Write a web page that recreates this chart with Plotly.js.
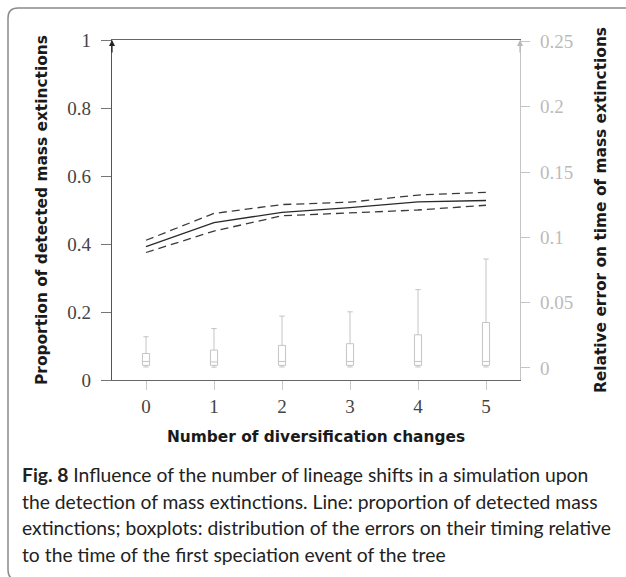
<!DOCTYPE html>
<html>
<head>
<meta charset="utf-8">
<script src="https://cdn.plot.ly/plotly-3.0.1.min.js"></script>
<style>html,body{margin:0;padding:0;background:#fff;}#chart{width:626px;height:577px;}</style>
</head>
<body>
<div id="chart"></div>
<script>
// Number of diversification changes
const changes = [0, 1, 2, 3, 4, 5];
// Proportion of detected mass extinctions (solid line) and its bounds (dashed)
const proportion = [0.392, 0.463, 0.493, 0.507, 0.524, 0.528];
const proportionUpper = [0.411, 0.490, 0.516, 0.523, 0.544, 0.552];
const proportionLower = [0.375, 0.438, 0.483, 0.492, 0.500, 0.514];
// Relative error on time of mass extinctions (boxplots)
const errLowerFence = [0.0008, 0.0006, 0.0008, 0.0008, 0.0008, 0.0008];
const errQ1 = [0.0020, 0.0020, 0.0020, 0.0020, 0.0020, 0.0020];
const errMedian = [0.0050, 0.0046, 0.0050, 0.0050, 0.0050, 0.0050];
const errQ3 = [0.0111, 0.0137, 0.0173, 0.0186, 0.0254, 0.0348];
const errUpperFence = [0.0239, 0.0302, 0.0397, 0.0430, 0.0600, 0.0834];
// Tick labels
const leftTicks = [0, 0.2, 0.4, 0.6, 0.8, 1];
const leftTickText = ['0', '0.2', '0.4', '0.6', '0.8', '1'];
const rightTicks = [0, 0.05, 0.1, 0.15, 0.2, 0.25];
const rightTickText = ['0', '0.05', '0.1', '0.15', '0.2', '0.25'];
const captionLines = [
  '<b>Fig. 8</b> Influence of the number of lineage shifts in a simulation upon',
  'the detection of mass extinctions. Line: proportion of detected mass',
  'extinctions; boxplots: distribution of the errors on their timing relative',
  'to the time of the first speciation event of the tree'
];

const W = 626, H = 577;
const M = {l: 112, r: 106, t: 40, b: 197};
const pw = W - M.l - M.r, ph = H - M.t - M.b;
const px = x => (x - M.l) / pw;
const py = y => (H - M.b - y) / ph;

const serif = 'Liberation Serif, DejaVu Serif, serif';
const sansTitle = 'DejaVu Sans, sans-serif';
const sansCap = 'Lato, Open Sans, sans-serif';

const traces = [
  {x: changes, type: 'box', yaxis: 'y2',
   q1: errQ1, median: errMedian, q3: errQ3, lowerfence: errLowerFence, upperfence: errUpperFence,
   width: 0.105, whiskerwidth: 0.75, fillcolor: 'rgba(255,255,255,0)',
   line: {color: '#c4c4c4', width: 1}, marker: {color: '#c4c4c4'}, boxpoints: false,
   showlegend: false, hoverinfo: 'skip'},
  {x: changes, y: proportionUpper, type: 'scatter', mode: 'lines',
   line: {color: '#3a3a3a', width: 1.3, dash: '8px,5px'}, showlegend: false},
  {x: changes, y: proportionLower, type: 'scatter', mode: 'lines',
   line: {color: '#3a3a3a', width: 1.3, dash: '8px,5px'}, showlegend: false},
  {x: changes, y: proportion, type: 'scatter', mode: 'lines',
   line: {color: '#2a2a2a', width: 1.3}, showlegend: false}
];

const annotations = captionLines.map((t, i) => ({
  xref: 'paper', yref: 'paper', x: px(20), y: 0, xanchor: 'left', yanchor: 'middle',
  yshift: -([474, 501, 527, 554][i] - (H - M.b)), text: t, showarrow: false,
  font: {family: sansCap, size: 19.3, color: '#222'}
}));
annotations.push({xref: 'paper', yref: 'paper', x: 0, y: 1, ax: 0, ay: 14, text: '',
  showarrow: true, arrowhead: 2, arrowsize: 1, arrowwidth: 1.2, arrowcolor: '#222', standoff: 0});
annotations.push({xref: 'paper', yref: 'paper', x: 1, y: 1, ax: 0, ay: 14, text: '',
  showarrow: true, arrowhead: 2, arrowsize: 1, arrowwidth: 1.2, arrowcolor: '#b8b8b8', standoff: 0});

const L = px(8), T = py(8), B = py(580), rx = 10 / pw, ry = 10 / ph;
const framePath = `M 1.3,${T} L ${L + rx},${T} Q ${L},${T} ${L},${T - ry} L ${L},${B + ry} Q ${L},${B} ${L + rx},${B} L 1.3,${B}`;

const layout = {
  width: W, height: H, margin: M,
  paper_bgcolor: '#fff', plot_bgcolor: '#fff', showlegend: false,
  xaxis: {range: [-0.5, 5.5], tickvals: changes, ticks: 'outside', ticklen: 9, tickcolor: '#c8c8c8',
    showline: true, mirror: true, linecolor: '#666', linewidth: 1.3, showgrid: false, zeroline: false,
    tickfont: {family: serif, size: 19, color: '#444'},
    title: {text: 'Number of diversification changes', standoff: 15,
      font: {family: sansTitle, size: 15.4, weight: 'bold', color: '#1a1a1a'}}},
  yaxis: {range: [0, 1], tickvals: leftTicks, ticktext: leftTickText, ticks: 'outside', ticklen: 10,
    tickcolor: '#777', showline: true, linecolor: '#555', linewidth: 1.3, showgrid: false, zeroline: false,
    ticklabelstandoff: 6,
    tickfont: {family: serif, size: 19, color: '#444'},
    title: {text: 'Proportion of detected mass extinctions', standoff: 15,
      font: {family: sansTitle, size: 15.4, weight: 'bold', color: '#1a1a1a'}}},
  yaxis2: {overlaying: 'y', side: 'right', range: [-0.0092, 0.2511], tickvals: rightTicks, ticktext: rightTickText,
    ticks: 'outside', ticklen: 9, tickcolor: '#c4c4c4', showline: true, linecolor: '#c4c4c4', linewidth: 1.3,
    showgrid: false, zeroline: false, ticklabelstandoff: 6,
    tickfont: {family: serif, size: 19, color: '#bbb'},
    title: {text: 'Relative error on time of mass extinctions', standoff: 23,
      font: {family: sansTitle, size: 15.4, weight: 'bold', color: '#1a1a1a'}}},
  shapes: [{type: 'path', xref: 'paper', yref: 'paper', path: framePath,
    line: {color: '#8a8a8a', width: 1.5}}],
  annotations: annotations
};

Plotly.newPlot('chart', traces, layout, {staticPlot: true, displayModeBar: false});
</script>
</body>
</html>
